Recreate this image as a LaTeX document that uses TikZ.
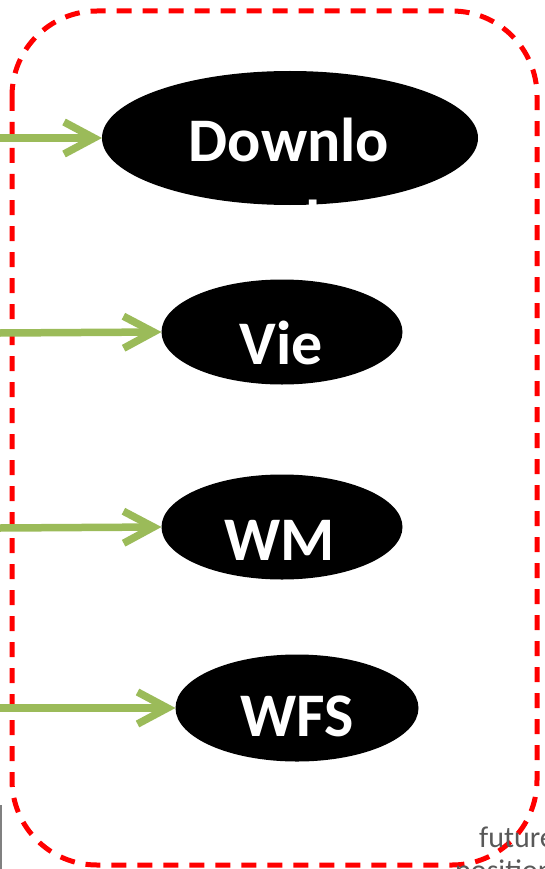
\documentclass[tikz,border=0pt]{standalone}
\usepackage{fontspec}
\setmainfont{Carlito}
\usetikzlibrary{arrows.meta,shapes.geometric}
\definecolor{olive}{HTML}{9BBB59}
\definecolor{note}{HTML}{595959}
\begin{document}
\begin{tikzpicture}[x=1pt,y=-1pt,
  blob/.style={ellipse, fill=black, inner sep=0pt, outer sep=0pt},
  lbl/.style={text=white, font=\fontsize{62}{74}\selectfont\bfseries, inner sep=0pt, anchor=base},
  flow/.style={draw=olive, line width=7.5pt,
    -{Straight Barb[length=30pt, width=32pt, sharp]}},
  frame/.style={draw=red, line width=5pt, dash pattern=on 15pt off 11pt, rounded corners=85pt}]
  \useasboundingbox (0,0) rectangle (544,869);
  \clip (0,0) rectangle (544,869);

  % grouping frame
  \draw[frame] (12,11) rectangle (537,865);

  % process ellipses
  \node[blob, minimum width=376pt, minimum height=134pt] (dl)  at (290,138) {};
  \node[blob, minimum width=241pt, minimum height=105pt] (vw)  at (282,332) {};
  \node[blob, minimum width=241pt, minimum height=105pt] (wm)  at (282,527) {};
  \node[blob, minimum width=243pt, minimum height=107pt] (wfs) at (297,708) {};

  % labels, cut off at the ellipse outline
  \begin{scope}
    \clip (dl.center) ellipse [x radius=188, y radius=67];
    \node[lbl] (dlt1) at (289,161) {Downlo};
    \node[lbl] (dlt2) at (289,243) {ad};
  \end{scope}
  \begin{scope}
    \clip (vw.center) ellipse [x radius=120.5, y radius=52.5];
    \node[lbl] (vwt) at (281,364) {Vie};
  \end{scope}
  \begin{scope}
    \clip (wm.center) ellipse [x radius=120.5, y radius=52.5];
    \node[lbl] (wmt) at (280,560) {WM};
  \end{scope}
  \begin{scope}
    \clip (wfs.center) ellipse [x radius=121.5, y radius=53.5];
    \node[lbl] (wfst) at (297,736) {WFS};
  \end{scope}

  % incoming arrows
  \coordinate (in1) at (0,138);
  \coordinate (in2) at (0,333);
  \coordinate (in3) at (0,528);
  \coordinate (in4) at (0,708);
  \draw[flow] (in1) -- (dl.west);
  \draw[flow] (in2) -- (vw.west);
  \draw[flow] (in3) -- (wm.west);
  \draw[flow] (in4) -- (wfs.west);

  % edge of neighbouring content
  \draw[gray, line width=2pt] (1,805) -- (1,869);
  \node[note, font=\fontsize{30}{33}\selectfont, inner sep=0pt, anchor=base west] (f1) at (479,847) {future};
  \node[note, font=\fontsize{30}{33}\selectfont, inner sep=0pt, anchor=base west] (f2) at (455,880) {positions};
\end{tikzpicture}
\end{document}
